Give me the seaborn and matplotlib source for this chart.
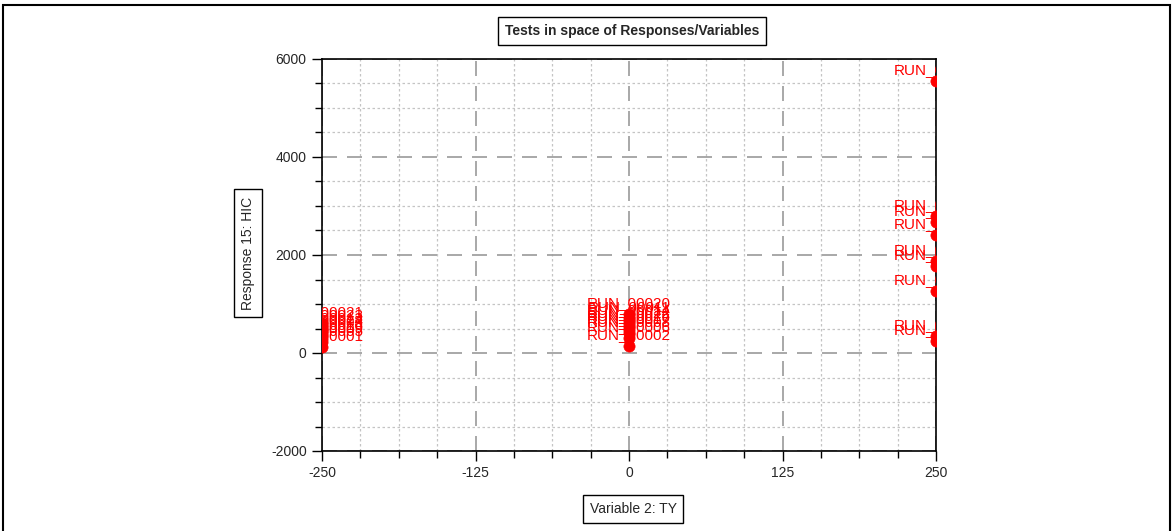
import matplotlib
matplotlib.use("Agg")
import matplotlib.pyplot as plt
import numpy as np
import pandas as pd
import seaborn as sns
from matplotlib.patches import Rectangle
from matplotlib.ticker import MultipleLocator

# Test points: variable TY vs response HIC
ty_levels = [-250, 0, 250]
hic_low = [610, 560, 500, 450, 400, 350, 280, 220, 120]
hic_mid = [800, 720, 660, 600, 540, 470, 400, 300, 150]
hic_high = [5550, 2800, 2680, 2400, 1870, 1780, 1270, 340, 240]
runs_low = ["RUN_00021", "RUN_00023", "RUN_00013", "RUN_00024", "RUN_00003",
            "RUN_00016", "RUN_00009", "RUN_00005", "RUN_00001"]
runs_mid = ["RUN_00020", "RUN_00011", "RUN_00014", "RUN_00022", "RUN_00026",
            "RUN_00017", "RUN_00008", "RUN_00006", "RUN_00002"]
runs_high = ["RUN_00019", "RUN_00025", "RUN_00012", "RUN_00027", "RUN_00015",
             "RUN_00018", "RUN_00010", "RUN_00007", "RUN_00004"]

x_ticks = [-250, -125, 0, 125, 250]
y_ticks = [-2000, 0, 2000, 4000, 6000]

df = pd.DataFrame({
    "TY": [ty_levels[0]] * len(hic_low) + [ty_levels[1]] * len(hic_mid)
          + [ty_levels[2]] * len(hic_high),
    "HIC": hic_low + hic_mid + hic_high,
    "run": runs_low + runs_mid + runs_high,
})

sns.set_style("white")
plt.rcParams["font.family"] = ["Liberation Sans", "DejaVu Sans"]
plt.rcParams["axes.unicode_minus"] = False

fig = plt.figure(figsize=(11.73, 5.31), dpi=100)
ax = fig.add_axes([322 / 1173, 1 - 451 / 531, 614 / 1173, 392 / 531])

sns.scatterplot(data=df, x="TY", y="HIC", ax=ax, color="red", s=65,
                edgecolor="red", linewidth=0.5, zorder=3)
for _, r in df.iterrows():
    ax.annotate(r["run"], (r["TY"], r["HIC"]), xytext=(0, 5),
                textcoords="offset points", ha="center", va="baseline",
                color="red", fontsize=11, clip_on=True, zorder=4)

ax.set_xlim(x_ticks[0], x_ticks[-1])
ax.set_ylim(y_ticks[0], y_ticks[-1])
ax.set_xticks(x_ticks)
ax.set_yticks(y_ticks)
ax.xaxis.set_minor_locator(MultipleLocator(31.25))
ax.yaxis.set_minor_locator(MultipleLocator(500))
ax.tick_params(which="major", direction="out", length=7, width=1,
               labelsize=10, color="black", pad=4,
               bottom=True, left=True)
ax.tick_params(which="minor", direction="out", length=5, width=1,
               color="black", bottom=True, left=True)

ax.grid(which="major", color="#9a9a9a", linestyle=(0, (9, 6)), linewidth=1.2)
ax.grid(which="minor", color="#c4c4c4", linestyle=(0, (2, 2)), linewidth=0.9)
ax.set_axisbelow(True)
for sp in ax.spines.values():
    sp.set_color("black")
    sp.set_linewidth(1.2)

ax.set_xlabel("")
ax.set_ylabel("")

box = dict(boxstyle="square,pad=0.5", facecolor="white", edgecolor="black",
           linewidth=1)
fig.text(632 / 1173, 1 - 31 / 531, "Tests in space of Responses/Variables",
         ha="center", va="center", fontsize=10, fontweight="bold", bbox=box)
fig.text(248 / 1173, 1 - 253 / 531, "Response 15: HIC", rotation=90,
         ha="center", va="center", fontsize=10, bbox=box)
fig.text(633 / 1173, 1 - 509 / 531, "Variable 2: TY",
         ha="center", va="center", fontsize=10, bbox=box)

fig.add_artist(Rectangle((3 / 1173, -0.02), 1167 / 1173, 1.02 - 5 / 531,
                         transform=fig.transFigure, fill=False,
                         edgecolor="black", linewidth=1.5))

fig.savefig("out.png", dpi=100)
